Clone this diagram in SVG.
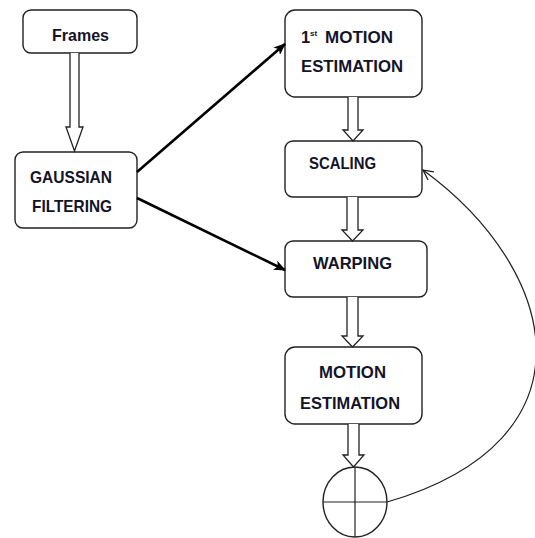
<svg xmlns="http://www.w3.org/2000/svg" width="535" height="538" viewBox="0 0 535 538">
<defs>
<style>
.box{fill:#fff;stroke:#222;stroke-width:1.4}
.lbl{font-family:"Liberation Sans",Arial,sans-serif;font-weight:bold;font-size:16.5px;fill:#141428}
.sup{font-family:"Liberation Sans",Arial,sans-serif;font-weight:bold;font-size:8px;fill:#141428}
.hollow{fill:#fff;stroke:#222;stroke-width:1.3;stroke-linejoin:miter}
.thick{fill:none;stroke:#000;stroke-width:2.6}
.thin{fill:none;stroke:#222;stroke-width:1.2}
</style>
<marker id="solid" viewBox="0 0 12 10" refX="11" refY="5" markerWidth="12" markerHeight="10" markerUnits="userSpaceOnUse" orient="auto">
<path d="M0,0 L12,5 L0,10 L3,5 Z" fill="#000"/>
</marker>
<marker id="open" viewBox="0 0 12 12" refX="11" refY="6" markerWidth="12" markerHeight="12" markerUnits="userSpaceOnUse" orient="auto">
<path d="M1,1 L11,6 L1,11" fill="none" stroke="#222" stroke-width="1.3"/>
</marker>
</defs>
<rect width="535" height="538" fill="#fff"/>

<g id="frames">
<rect class="box" x="23" y="10" width="114" height="43" rx="8"/>
<text class="lbl" x="52" y="41" textLength="57" lengthAdjust="spacingAndGlyphs">Frames</text>
</g>

<g id="gaussian">
<rect class="box" x="15" y="152" width="122" height="76" rx="8"/>
<text class="lbl" x="30" y="183" textLength="82" lengthAdjust="spacingAndGlyphs">GAUSSIAN</text>
<text class="lbl" x="32" y="212" textLength="80" lengthAdjust="spacingAndGlyphs">FILTERING</text>
</g>

<g id="motion1">
<rect class="box" x="285" y="10" width="137" height="87" rx="10"/>
<text class="lbl" x="301" y="43">1</text>
<text class="sup" x="310" y="36">st</text>
<text class="lbl" x="325" y="43" textLength="68" lengthAdjust="spacingAndGlyphs">MOTION</text>
<text class="lbl" x="301" y="72" textLength="102" lengthAdjust="spacingAndGlyphs">ESTIMATION</text>
</g>

<g id="scaling">
<rect class="box" x="285" y="141" width="137" height="56" rx="8"/>
<text class="lbl" x="309" y="169" textLength="67" lengthAdjust="spacingAndGlyphs">SCALING</text>
</g>

<g id="warping">
<rect class="box" x="285" y="241" width="142" height="56" rx="8"/>
<text class="lbl" x="313" y="269" textLength="79" lengthAdjust="spacingAndGlyphs">WARPING</text>
</g>

<g id="motion2">
<rect class="box" x="285" y="347" width="137" height="77" rx="10"/>
<text class="lbl" x="319" y="378" textLength="67" lengthAdjust="spacingAndGlyphs">MOTION</text>
<text class="lbl" x="300" y="409" textLength="100" lengthAdjust="spacingAndGlyphs">ESTIMATION</text>
</g>

<g id="sum">
<ellipse class="box" cx="355" cy="502" rx="32" ry="35"/>
<line class="thin" x1="323" y1="502" x2="387" y2="502"/>
<line class="thin" x1="355" y1="467" x2="355" y2="537"/>
</g>

<g id="connectors">
<path class="hollow" d="M70,53 L70,127 L66,127 L74.5,151 L83,127 L79,127 L79,53"/>
<path class="hollow" d="M348,97 L348,130 L343,130 L353,141 L363,130 L358,130 L358,97"/>
<path class="hollow" d="M347,197 L347,230 L342,230 L352.5,241 L363,230 L358,230 L358,197"/>
<path class="hollow" d="M347,297 L347,336 L342,336 L352.5,347 L363,336 L358,336 L358,297"/>
<path class="hollow" d="M348,424 L348,455 L343,455 L353.5,467 L364,455 L359,455 L359,424"/>
<line class="thick" x1="137" y1="172" x2="285" y2="44" marker-end="url(#solid)"/>
<line class="thick" x1="137" y1="198" x2="285" y2="270" marker-end="url(#solid)"/>
<path class="thin" d="M387,502 C600,440 560,270 423,170" marker-end="url(#open)"/>
</g>
</svg>
